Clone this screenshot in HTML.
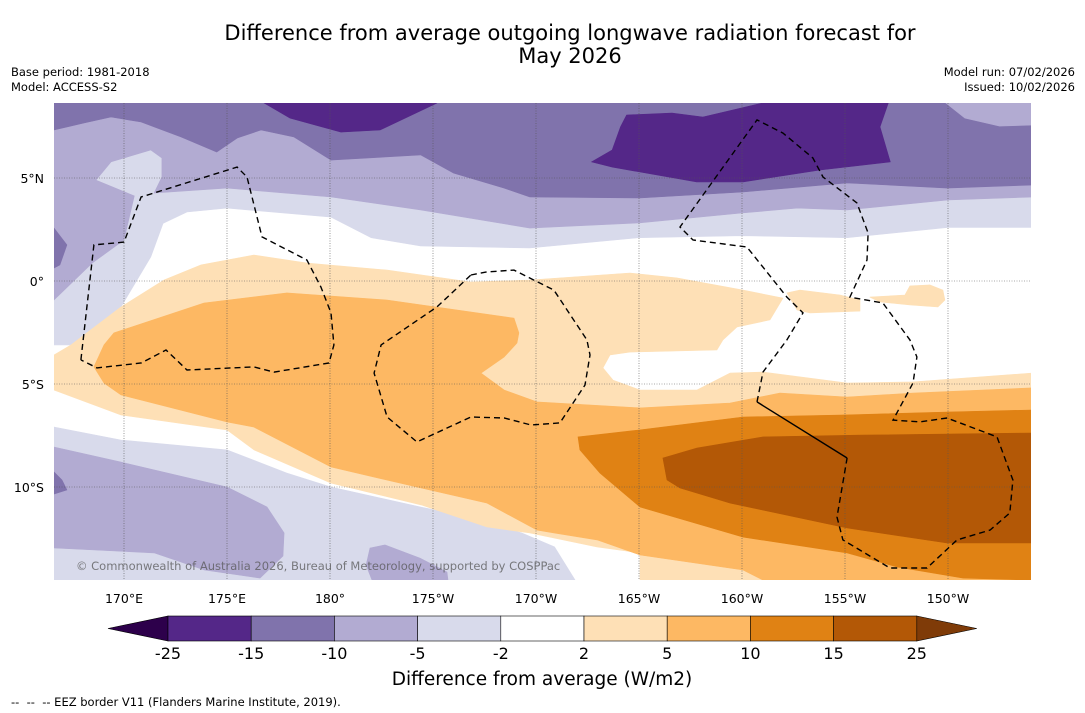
<!DOCTYPE html>
<html><head><meta charset="utf-8"><style>
body{margin:0;background:#fff;font-family:"DejaVu Sans",sans-serif;}
#wrap{position:relative;width:1085px;height:713px;overflow:hidden;background:#fff}
.t{position:absolute;white-space:nowrap;color:#000}
</style></head><body>
<div id="wrap">
<div class="t" style="left:0;width:1140px;text-align:center;top:22px;font-size:21px;line-height:23px">Difference from average outgoing longwave radiation forecast for<br>May 2026</div>
<div class="t" style="left:11px;top:65px;font-size:11.5px;line-height:15px">Base period: 1981-2018<br>Model: ACCESS-S2</div>
<div class="t" style="right:10px;top:65px;font-size:11.5px;line-height:15px;text-align:right">Model run: 07/02/2026<br>Issued: 10/02/2026</div>
<div class="t" style="left:11px;top:695px;font-size:11.5px">-- &nbsp;-- &nbsp;-- EEZ border V11 (Flanders Marine Institute, 2019).</div>
<svg id="svg" width="1085" height="713" style="position:absolute;left:0;top:0"></svg>
</div>
<script>
const lonTicks=[170,175,180,185,190,195,200,205,210];
const lonLabels=["170°E","175°E","180°","175°W","170°W","165°W","160°W","155°W","150°W"];
const latTicks=[5,0,-5,-10];
const latLabels=["5°N","0°","5°S","10°S"];
const cbBounds=["-25","-15","-10","-5","-2","2","5","10","15","25"];
const cbColors=["#542788","#8073ac","#b2abd2","#d8daeb","#ffffff","#fee0b6","#fdb863","#e08214","#b35806"];
const contourFills=["#d8daeb","#d8daeb","#b2abd2","#b2abd2","#b2abd2","#8073ac","#8073ac","#8073ac","#b2abd2","#542788","#542788","#fee0b6","#fee0b6","#fee0b6","#fdb863","#e08214","#b35806"];
const contourPolys=[
[[166.6,8.64],[214.05,8.64],[214.05,2.6],[210,2.6],[205.1,2.1],[200,2.2],[195,2.1],[189.7,1.6],[184.4,1.7],[182,2.1],[180.05,3.1],[175,3.54],[173.06,3.35],[171.9,2.8],[171.3,1.17],[169.85,-1.26],[167.6,-3.1],[166.6,-3.1]],
[[166.6,-7.09],[169.85,-7.72],[175,-8.2],[177.9,-9.32],[180.05,-10],[184.4,-10.97],[186.8,-11.46],[189.3,-12.23],[190.9,-12.91],[191.9,-14.52],[166.6,-14.52]],
[[166.6,8.64],[214.05,8.64],[214.05,4.08],[210,3.93],[205.1,3.45],[202.7,3.54],[200,3.3],[195,2.82],[189.7,2.57],[184.4,3.45],[180.05,4.08],[175,4.51],[171.46,4.27],[171.84,5.05],[171.84,5.97],[171.3,6.36],[169.37,5.78],[168.64,4.9],[170.5,4.13],[170,1.99],[168.45,0.87],[166.6,-0.92]],
[[166.6,-8.06],[169.85,-8.79],[175,-10],[176.94,-10.97],[177.77,-12.23],[177.72,-13.35],[176.6,-14.42],[173.9,-14.03],[171.46,-13.2],[166.6,-12.96]],
[[181.94,-12.96],[182.67,-12.81],[184.37,-13.45],[185.68,-14.13],[185.73,-14.52],[182.04,-14.52],[181.75,-13.79]],
[[166.6,2.57],[167.23,1.75],[166.89,0.78],[166.6,0.63]],
[[166.6,-9.27],[166.99,-9.66],[167.23,-10.14],[166.6,-10.34]],
[[166.6,8.64],[214.05,8.64],[214.05,4.66],[209.95,4.51],[205.1,4.76],[200.05,4.32],[195.05,4.03],[189.7,4.08],[188.45,4.51],[186,5.24],[184.4,6.12],[180.05,5.87],[178.25,6.99],[176.65,7.33],[175.5,6.94],[174.5,6.26],[172.77,6.99],[170.83,7.72],[169.37,7.96],[168.06,7.67],[166.6,7.33]],
[[209.9,8.64],[210.82,7.91],[212.5,7.52],[214.05,7.57],[214.05,8.64]],
[[176.8,8.64],[178.06,7.91],[180.53,7.23],[182.43,7.33],[185.2,8.64]],
[[194.4,8.06],[196.6,8.15],[198.1,7.96],[201,8.64],[207.1,8.64],[206.7,7.48],[207.2,5.78],[203.8,5.39],[200.05,4.81],[197.8,4.81],[193.7,5.53],[192.7,5.78],[193.7,6.36],[194.1,7.48]],
[[166.6,-3.59],[167.43,-3.1],[169.85,-1.26],[171.94,0.05],[173.74,0.78],[176.3,1.26],[178.9,0.87],[182.77,0.53],[186.84,-0.05],[189.7,0.05],[194.56,0.39],[196.84,0.15],[200.05,-0.44],[201.99,-0.83],[201.36,-1.89],[199.76,-2.23],[199.08,-2.86],[198.78,-3.35],[194.56,-3.45],[193.59,-3.59],[193.25,-4.22],[193.74,-4.81],[195.05,-5.29],[197.81,-5.29],[199.42,-4.47],[201.02,-4.42],[205.1,-4.95],[208.3,-4.9],[214.05,-4.47],[214.05,-14.52],[195.05,-14.52],[195.05,-13.2],[192.96,-12.91],[189.7,-12.23],[187.62,-11.94],[184.42,-10.87],[180.05,-9.81],[176.31,-8.2],[175,-7.23],[169.85,-6.5],[166.6,-5.29]],
[[202.18,-0.58],[202.81,-0.44],[204.76,-0.68],[205.73,-0.92],[205.73,-1.46],[203.3,-1.55],[202.67,-1.41]],
[[206.2,-0.78],[207.91,-0.68],[208.15,-0.24],[209.12,-0.19],[209.75,-0.44],[209.85,-0.92],[209.51,-1.26],[208.15,-1.16],[206.7,-1.02]],
[[168.54,-4.17],[169.03,-3.1],[169.51,-2.52],[173.88,-1.07],[177.91,-0.58],[182.77,-0.92],[188.93,-1.8],[189.17,-2.52],[189.08,-3.01],[188.45,-3.69],[187.33,-4.47],[188.45,-5.29],[190.05,-5.87],[195.05,-6.16],[199.42,-5.92],[201.84,-5.44],[205.1,-5.63],[208.3,-5.44],[214.05,-5.19],[214.05,-14.52],[201.02,-14.52],[200.05,-14.03],[195.05,-13.3],[192.96,-12.57],[190.87,-12.23],[190.05,-12.09],[187.62,-10.78],[184.42,-10.05],[180.05,-9.03],[176.31,-7.09],[175,-6.84],[169.85,-5.53],[169.03,-4.95]],
[[192.04,-7.57],[195.05,-7.23],[200.05,-6.6],[205.1,-6.5],[209.95,-6.36],[214.05,-6.26],[214.05,-14.52],[210.73,-14.42],[207.52,-13.88],[205.1,-13.2],[200.05,-12.43],[195.05,-10.97],[193.1,-9.32],[192.13,-8.2]],
[[196.16,-8.59],[197.81,-8.11],[201.02,-7.57],[205.87,-7.48],[214.05,-7.38],[214.05,-12.72],[209.95,-12.72],[205.1,-11.99],[201.02,-11.12],[199.42,-10.78],[196.99,-10.05],[196.36,-9.66]]
];
const eezA=[[167.91,-3.83],[168.54,1.75],[170,1.89],[170.83,4.08],[175.49,5.53],[175.97,5.05],[176.7,2.14],[178.88,1.02],[179.56,-0.29],[180.05,-1.55],[180.19,-3.1],[179.95,-3.98],[177.28,-4.42],[176.31,-4.17],[173.06,-4.32],[172.04,-3.35],[170.83,-3.98],[168.69,-4.22],[167.91,-3.83]];
const eezB=[[186.84,0.29],[187.62,0.44],[188.93,0.53],[190.87,-0.44],[192.47,-2.86],[192.62,-3.59],[192.38,-5.05],[191.16,-6.89],[189.76,-6.99],[188.45,-6.65],[186.84,-6.6],[184.22,-7.81],[182.77,-6.6],[182.14,-4.47],[182.48,-3.1],[185.19,-1.26],[186.84,0.29]];
const eezC=[[200.73,-5.87],[201.02,-4.42],[202.18,-2.86],[202.96,-1.55],[202.18,-0.78],[200.24,1.65],[197.62,1.99],[196.99,2.62],[200.73,7.82],[201.99,7.18],[203.44,5.97],[203.93,5.05],[205.58,3.79],[206.12,2.33],[206.07,1.02],[205.24,-0.78],[206.84,-1.07],[208.15,-2.86],[208.49,-3.69],[208.3,-4.95],[207.33,-6.75],[208.64,-6.84],[209.95,-6.65],[212.38,-7.57],[213.15,-9.66],[213,-11.26],[212.04,-12.09],[210.44,-12.57],[208.98,-13.93],[207.18,-13.93],[204.9,-12.57],[204.61,-11.46],[205.1,-8.59]];
const eezSolid=[[200.73,-5.87],[205.1,-8.59]];

const NS="http://www.w3.org/2000/svg";
const FONT="DejaVu Sans, sans-serif";
const svg=document.getElementById('svg');
const X0=54,X1=1031,Y0=103,Y1=580;
const xS=lon=>124+(lon-170)*20.6;
const yS=lat=>281-lat*20.6;
function mk(tag,attrs,parent){const e=document.createElementNS(NS,tag);for(const k in attrs)e.setAttribute(k,attrs[k]);(parent||svg).appendChild(e);return e;}
const defs=mk('defs',{});
const cp=mk('clipPath',{id:'mapclip'},defs);
mk('rect',{x:X0,y:Y0,width:X1-X0,height:Y1-Y0},cp);
const g=mk('g',{'clip-path':'url(#mapclip)'});
const bg=mk('rect',{x:X0,y:Y0,width:X1-X0,height:Y1-Y0,fill:'#fff'},g);


const pts=a=>a.map(p=>xS(p[0]).toFixed(1)+','+yS(p[1]).toFixed(1)).join(' ');
contourPolys.forEach((poly,i)=>{
  const p=mk('polygon',{points:pts(poly),fill:contourFills[i],stroke:contourFills[i],'stroke-width':0.6},g);
  
  
});
lonTicks.forEach(l=>{const e=mk('line',{x1:xS(l),x2:xS(l),y1:Y0,y2:Y1,stroke:'#555','stroke-width':0.6,'stroke-dasharray':'1,1.5'},g);
  
  });
latTicks.forEach(l=>{const e=mk('line',{x1:X0,x2:X1,y1:yS(l),y2:yS(l),stroke:'#555','stroke-width':0.6,'stroke-dasharray':'1,1.5'},g);
  
  });
[eezA,eezB,eezC].forEach(a=>{const e=mk('polyline',{points:pts(a),fill:'none',stroke:'#000','stroke-width':1.4,'stroke-dasharray':'6,4'},g);
  
  });
const sl=mk('polyline',{points:pts(eezSolid),fill:'none',stroke:'#000','stroke-width':1.4},g);


const cr=mk('text',{x:76,y:570,'font-size':11.5,fill:'#555','fill-opacity':0.75,'font-family':FONT},g);
cr.textContent='© Commonwealth of Australia 2026, Bureau of Meteorology, supported by COSPPac';


lonTicks.forEach((l,i)=>{const t=mk('text',{x:xS(l),y:603,'text-anchor':'middle','font-size':12.5,'font-family':FONT});t.textContent=lonLabels[i];
  
  });
latTicks.forEach((l,i)=>{const t=mk('text',{x:44,y:yS(l)+5,'text-anchor':'end','font-size':12.5,'font-family':FONT});t.textContent=latLabels[i];
  
  });
const cbX0=168,cbW=83.2,cbY=616,cbH=25;
const tl=mk('polygon',{points:`108,${cbY+cbH/2} ${cbX0},${cbY} ${cbX0},${cbY+cbH}`,fill:'#2d004b',stroke:'#000','stroke-width':0.6});


cbColors.forEach((c,i)=>{const r=mk('rect',{x:cbX0+i*cbW,y:cbY,width:cbW,height:cbH,fill:c,stroke:'#000','stroke-width':0.6});
  
  });
const xe=cbX0+cbColors.length*cbW;
const tr=mk('polygon',{points:`${xe},${cbY} ${xe+60},${cbY+cbH/2} ${xe},${cbY+cbH}`,fill:'#7f3b08',stroke:'#000','stroke-width':0.6});


cbBounds.forEach((b,i)=>{const t=mk('text',{x:cbX0+i*cbW,y:659,'text-anchor':'middle','font-size':16,'font-family':FONT});t.textContent=b;
  
  });
const at=mk('text',{x:542,y:685,'text-anchor':'middle','font-size':18.5,'font-family':FONT});
at.textContent='Difference from average (W/m2)';


</script>
</body></html>
